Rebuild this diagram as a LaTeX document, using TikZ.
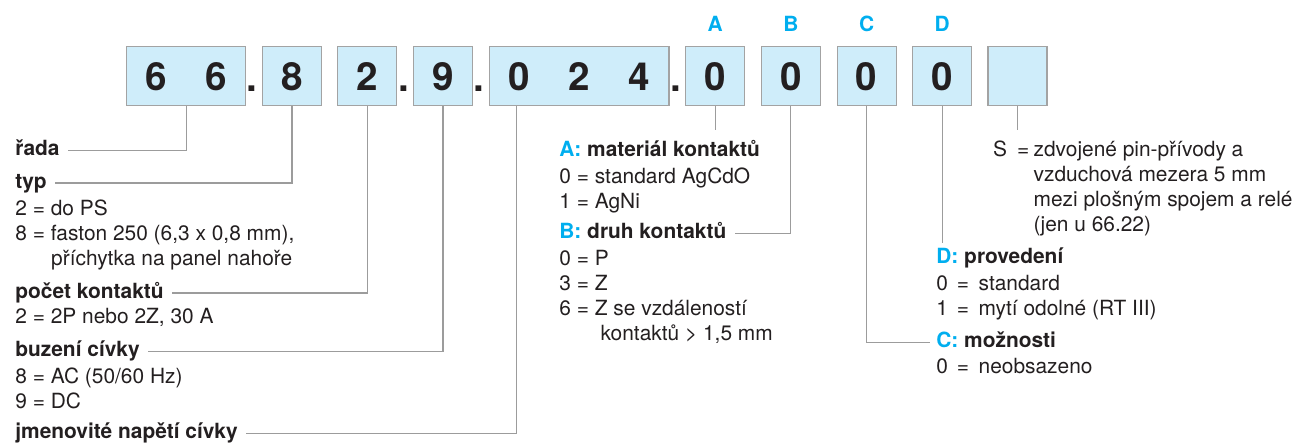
\documentclass[tikz,border=0pt]{standalone}
\usepackage{fontspec}
\setmainfont{TeX Gyre Heros}
\usepackage{tikz}
\definecolor{boxfill}{HTML}{CFEDFA}
\definecolor{boxline}{HTML}{A3A3A3}
\definecolor{wire}{HTML}{9C9C9C}
\definecolor{ink}{HTML}{231F20}
\definecolor{letter}{HTML}{00AEEF}

\begin{document}
\begin{tikzpicture}[
		x=0.02cm, y=-0.02cm,
		every node/.style={inner sep=0pt, text=ink, font=\fontsize{11.9}{14.2}\selectfont},
		cell/.style={draw=boxline, fill=boxfill, line width=0.7pt, minimum width=1.18cm, minimum height=1.18cm, font=\fontsize{22}{24}\selectfont\bfseries},
		sep/.style={anchor=base, font=\fontsize{22}{24}\selectfont\bfseries},
		letter/.style={anchor=base, text=letter, font=\fontsize{11.9}{14.2}\selectfont\bfseries},
		head/.style={anchor=base west, text height=5.7pt, text depth=0pt, font=\fontsize{11.9}{14.2}\selectfont\bfseries},
		list/.style={anchor=base west, align=left},
		wire/.style={draw=wire, line width=0.6pt}
	]
  \useasboundingbox (0,0) rectangle (1301,444);
  \node (box_66) [cell, minimum width=2.38cm] at (186.2, 76.2) {6\hspace{21.8pt}6};
  \node (box_8) [cell] at (292, 76.2) {8};
  \node (box_2) [cell] at (367.3, 76.2) {2};
  \node (box_9) [cell] at (443, 76.2) {9};
  \node (box_024) [cell, minimum width=3.59cm] at (579.2, 76.2) {0\hspace{21.8pt}2\hspace{21.8pt}4};
  \node (box_A) [cell] at (715.2, 76.2) {0};
  \node (box_B) [cell] at (790.8, 76.2) {0};
  \node (box_C) [cell] at (866.7, 76.2) {0};
  \node (box_D) [cell] at (942.2, 76.2) {0};
  \node (box_E) [cell] at (1017.5, 76.2) {};
  \foreach \x [count=\i] in {252, 404, 479, 676}
    \node (dot_\i) [sep] at (\x, 91.7) {.};
  \node (tag_A) [letter] at (715.2, 31.7) {A};
  \node (tag_B) [letter] at (790.8, 31.7) {B};
  \node (tag_C) [letter] at (866.7, 31.7) {C};
  \node (tag_D) [letter] at (942.2, 31.7) {D};

  % lists sit on the baseline of their last line
  \node (h_rada) [head] at (15, 155.7) {řada};
  \node (h_typ) [head] at (15, 188) {typ};
  \node (l_typ) [list] at (15, 265) {2 = do PS\\8 = faston 250 (6,3 x 0,8 mm),\\\hspace*{20.4pt}příchytka na panel nahoře};
  \node (h_pocet) [head] at (15, 298) {počet kontaktů};
  \node (l_pocet) [list] at (15, 323.3) {2 = 2P nebo 2Z, 30 A};
  \node (h_buzeni) [head] at (15, 356.7) {buzení cívky};
  \node (l_buzeni) [list] at (15, 408.3) {8 = AC (50/60 Hz)\\9 = DC};
  \node (h_napeti) [head] at (15, 438.3) {jmenovité napětí cívky};

  \node (h_A) [head] at (559, 156) {{\color{letter}A:} materiál kontaktů};
  \node (l_A) [list] at (559, 208.3) {0 = standard AgCdO\\1 = AgNi};
  \node (h_B) [head] at (559, 238.3) {{\color{letter}B:} druh kontaktů};
  \node (l_B) [list] at (559, 340) {0 = P\\3 = Z\\6 = Z se vzdáleností\\\hspace*{23.5pt}kontaktů > 1,5 mm};

  \node (s_key) [anchor=base west] at (992.7, 156.7) {S\hspace{5.7pt}=};
  \node (l_S) [list] at (1033.3, 231.7) {zdvojené pin-přívody a\\vzduchová mezera 5 mm\\mezi plošným spojem a relé\\(jen u 66.22)};
  \node (h_D) [head] at (936, 263.3) {{\color{letter}D:} provedení};
  \node (l_D) [list] at (936, 315) {0\hspace{5pt}=\hspace{5.5pt}standard\\1\hspace{5pt}=\hspace{5.5pt}mytí odolné (RT III)};
  \node (h_C) [head] at (936, 347.3) {{\color{letter}C:} možnosti};
  \node (l_C) [list] at (936, 373.3) {0\hspace{5pt}=\hspace{5.5pt}neobsazeno};

  \coordinate (end_A) at (715.2, 130);
  \coordinate (end_D) at (942.2, 243);
  \coordinate (end_E) at (1017.5, 130);
  \draw [wire] (box_66.south) |- ([xshift=4.5pt]h_rada.east);
  \draw [wire] (box_8.south) |- ([xshift=4.5pt]h_typ.east);
  \draw [wire] (box_2.south) |- ([xshift=4.5pt]h_pocet.east);
  \draw [wire] (box_9.south) |- ([xshift=4.5pt]h_buzeni.east);
  \draw [wire] ([xshift=-1.25cm]box_024.south) |- ([xshift=4.5pt]h_napeti.east);
  \draw [wire] (box_A.south) -- (end_A);
  \draw [wire] (box_B.south) |- ([xshift=5pt]h_B.east);
  \draw [wire] (box_C.south) |- ([xshift=-3.5pt]h_C.west);
  \draw [wire] (box_D.south) -- (end_D);
  \draw [wire] (box_E.south) -- (end_E);
\end{tikzpicture}
\end{document}
